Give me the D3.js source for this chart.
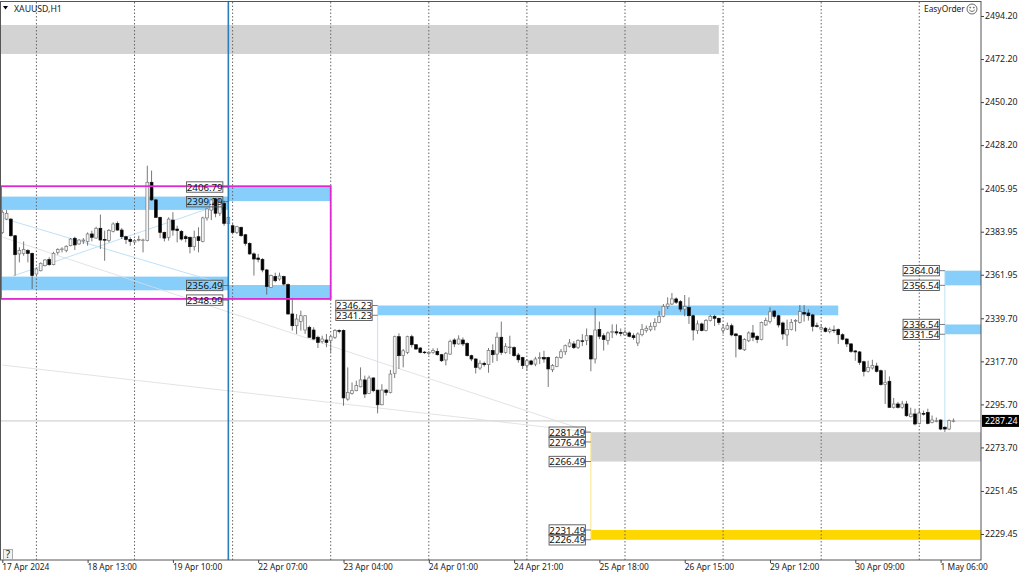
<!DOCTYPE html>
<html>
<head>
<meta charset="utf-8">
<script src="https://cdn.jsdelivr.net/npm/d3@7"></script>
<style>
  html, body { margin: 0; padding: 0; background: #fff; }
  svg { display: block; }
  text { font-family: "Noto Sans", sans-serif; fill: #222; }
</style>
</head>
<body>
<div id="chart"></div>
<script>
// XAUUSD H1 candles, one entry per bar
var opens = [
  2383.6,2390.4,2390.4,2381.9,2372.6,2372.9,2374.3,2372.9,2362.3,2364.0,
  2366.6,2369.7,2367.1,2373.4,2374.8,2374.4,2376.8,2380.6,2377.7,2379.2,
  2379.0,2382.8,2380.7,2385.7,2379.9,2379.4,2384.1,2388.2,2384.8,2381.4,
  2380.0,2378.7,2379.6,2379.5,2379.4,2409.2,2400.2,2391.3,2383.6,2381.1,
  2389.9,2385.3,2384.1,2381.4,2381.1,2376.3,2381.4,2379.0,2391.0,2395.0,
  2400.7,2393.4,2398.5,2388.2,2387.0,2383.6,2386.2,2382.4,2378.0,2372.6,
  2370.5,2369.8,2364.4,2355.5,2361.0,2359.8,2361.0,2356.9,2341.9,2335.9,
  2338.1,2333.7,2335.1,2333.7,2330.0,2327.9,2328.6,2328.3,2330.0,2333.5,
  2333.5,2298.4,2301.3,2302.7,2304.7,2308.2,2301.3,2309.2,2303.0,2295.5,
  2303.0,2301.8,2311.6,2330.3,2320.6,2322.3,2330.3,2326.2,2324.5,2322.4,
  2321.8,2322.3,2322.8,2321.1,2318.4,2321.4,2328.6,2326.6,2328.6,2326.9,
  2320.6,2318.9,2314.3,2316.7,2316.0,2323.2,2321.4,2330.0,2322.3,2324.7,
  2324.7,2320.9,2319.6,2315.5,2317.9,2316.3,2319.2,2319.7,2319.7,2313.4,
  2315.1,2319.7,2322.6,2325.4,2326.6,2324.7,2328.2,2328.3,2330.8,2318.9,
  2333.9,2330.8,2328.3,2332.5,2332.8,2332.5,2331.2,2332.2,2330.8,2327.1,
  2331.3,2333.4,2333.9,2335.6,2337.6,2340.7,2345.8,2347.0,2349.6,2348.2,
  2344.4,2345.3,2341.0,2333.4,2336.8,2333.4,2338.5,2340.7,2339.7,2333.4,
  2334.2,2335.9,2331.7,2330.8,2323.6,2328.2,2332.2,2330.5,2328.8,2336.3,
  2338.0,2343.4,2341.0,2337.3,2331.2,2333.9,2338.2,2337.6,2342.7,2342.4,
  2341.4,2335.9,2334.2,2334.6,2332.9,2333.7,2333.9,2331.3,2329.1,2326.6,
  2323.0,2322.5,2317.5,2312.6,2314.3,2315.3,2312.9,2305.8,2307.5,2294.2,
  2295.9,2294.2,2295.9,2289.4,2290.8,2286.0,2291.0,2291.6,2286.5,2287.0,
  2287.7,2284.0,2283.1,2287.2
];
var highs = [
  2395.0,2395.0,2390.8,2382.3,2376.0,2379.0,2375.1,2373.2,2365.7,2368.3,
  2370.0,2370.9,2373.7,2375.5,2376.0,2377.0,2380.7,2381.4,2380.2,2380.7,
  2383.6,2384.5,2386.5,2392.7,2384.5,2385.3,2388.7,2389.2,2385.8,2381.9,
  2381.1,2380.2,2381.9,2380.4,2417.7,2415.2,2400.7,2391.6,2384.0,2391.3,
  2393.9,2387.0,2384.8,2382.4,2381.4,2384.5,2386.2,2391.6,2396.0,2400.7,
  2401.0,2400.7,2399.8,2391.6,2387.9,2387.0,2386.5,2382.8,2378.5,2373.4,
  2372.6,2370.5,2364.9,2362.0,2363.0,2363.0,2361.5,2357.5,2350.1,2341.9,
  2343.6,2341.3,2335.9,2335.1,2330.8,2330.8,2331.7,2330.8,2334.2,2334.0,
  2334.0,2314.6,2306.9,2307.8,2314.6,2310.4,2310.4,2309.5,2303.0,2306.0,
  2303.6,2313.3,2330.8,2332.0,2324.0,2330.8,2331.3,2326.5,2325.0,2323.0,
  2323.0,2324.4,2324.4,2321.5,2322.5,2328.8,2329.5,2331.0,2329.9,2327.4,
  2321.1,2319.2,2318.2,2317.5,2324.5,2326.4,2332.5,2338.0,2327.0,2330.8,
  2325.4,2322.0,2320.0,2318.8,2318.5,2320.0,2322.3,2323.1,2320.0,2316.3,
  2320.3,2324.0,2326.3,2329.1,2328.0,2329.0,2331.6,2334.5,2331.0,2345.0,
  2338.0,2332.0,2333.0,2336.6,2336.6,2334.5,2334.0,2333.0,2332.0,2332.5,
  2336.8,2336.0,2337.5,2339.7,2343.4,2347.0,2350.4,2352.6,2350.4,2349.0,
  2351.6,2350.4,2341.6,2338.6,2337.5,2339.3,2341.5,2341.5,2340.0,2336.8,
  2337.5,2337.0,2332.0,2331.0,2329.5,2333.0,2336.3,2331.0,2338.0,2340.0,
  2345.3,2344.0,2341.5,2338.0,2339.0,2339.3,2339.3,2346.5,2346.5,2344.3,
  2342.0,2337.5,2336.5,2335.3,2335.0,2336.0,2334.5,2332.0,2329.5,2327.0,
  2323.5,2323.0,2318.0,2318.0,2318.5,2317.0,2313.5,2313.2,2310.0,2299.0,
  2297.0,2297.5,2297.5,2294.0,2293.5,2293.5,2292.5,2293.5,2290.0,2289.0,
  2288.0,2284.5,2288.0,2288.5
];
var lows = [
  2382.8,2389.9,2381.4,2361.5,2368.3,2371.7,2368.3,2354.7,2362.0,2363.7,
  2366.2,2366.6,2366.8,2372.2,2373.4,2373.4,2376.5,2374.6,2377.3,2377.7,
  2376.8,2379.0,2380.4,2375.1,2369.1,2378.5,2383.6,2384.5,2380.2,2377.7,
  2376.8,2377.7,2379.0,2373.4,2379.0,2399.8,2391.0,2380.7,2379.0,2379.4,
  2381.9,2378.5,2379.4,2378.5,2372.9,2374.3,2373.4,2378.5,2389.6,2389.9,
  2391.3,2392.0,2387.0,2387.9,2383.3,2382.8,2381.4,2376.8,2372.2,2361.5,
  2368.3,2363.2,2351.8,2355.2,2358.1,2358.9,2356.4,2341.5,2333.4,2331.7,
  2333.4,2331.7,2329.7,2328.8,2324.5,2326.9,2324.9,2322.3,2329.1,2332.0,
  2295.0,2297.6,2300.7,2302.4,2304.4,2299.0,2301.0,2301.9,2291.1,2295.2,
  2300.2,2301.3,2309.2,2313.8,2314.6,2321.4,2324.8,2323.5,2321.8,2321.5,
  2321.0,2321.6,2320.6,2317.4,2315.6,2321.0,2325.0,2326.2,2325.5,2320.2,
  2317.8,2311.5,2313.3,2315.0,2311.9,2317.0,2317.8,2321.0,2321.6,2321.4,
  2320.0,2317.0,2313.8,2313.1,2315.6,2315.2,2316.3,2317.0,2304.6,2312.2,
  2314.7,2319.0,2321.0,2324.8,2324.0,2324.0,2325.5,2326.0,2312.6,2316.6,
  2329.0,2323.2,2326.2,2329.6,2331.0,2330.5,2331.0,2330.0,2328.7,2325.5,
  2330.5,2332.4,2333.0,2333.5,2337.2,2340.2,2344.4,2346.5,2347.0,2343.0,
  2340.7,2336.8,2328.4,2331.7,2333.0,2333.0,2338.0,2335.7,2336.3,2331.8,
  2333.7,2330.5,2319.7,2323.5,2323.0,2327.5,2328.0,2327.0,2328.4,2335.8,
  2337.0,2339.5,2335.0,2328.8,2325.5,2333.5,2333.0,2337.0,2338.0,2338.5,
  2333.0,2335.0,2333.5,2332.5,2332.0,2332.2,2326.6,2328.5,2325.0,2322.0,
  2318.0,2315.8,2310.0,2312.0,2313.5,2312.0,2305.3,2295.9,2294.0,2293.6,
  2293.6,2293.5,2289.4,2289.0,2285.0,2285.5,2290.0,2285.5,2286.0,2286.5,
  2282.5,2281.6,2282.5,2286.5
];
var closes = [
  2393.9,2393.3,2381.9,2372.2,2374.3,2374.8,2372.9,2361.5,2364.9,2367.8,
  2369.5,2367.1,2372.9,2374.9,2375.1,2376.5,2380.2,2377.2,2379.7,2379.7,
  2382.8,2381.1,2385.7,2379.7,2379.6,2384.5,2387.9,2384.8,2381.4,2380.0,
  2379.0,2379.4,2380.0,2379.7,2409.2,2400.2,2391.3,2383.6,2380.7,2390.4,
  2384.8,2384.5,2380.2,2380.4,2376.3,2381.1,2379.4,2391.0,2395.6,2400.2,
  2393.4,2399.0,2388.2,2391.3,2383.6,2386.5,2381.9,2378.0,2372.6,2370.0,
  2369.8,2364.4,2355.9,2361.5,2358.9,2361.3,2357.2,2341.9,2335.9,2339.3,
  2341.0,2341.0,2330.0,2329.1,2327.4,2329.1,2327.4,2330.3,2333.4,2333.0,
  2299.0,2301.8,2302.7,2305.3,2308.2,2301.0,2309.2,2302.7,2295.5,2303.0,
  2301.8,2311.2,2330.3,2320.6,2323.1,2330.3,2326.2,2324.0,2322.3,2322.1,
  2322.2,2323.2,2321.1,2318.0,2321.8,2327.9,2326.6,2329.1,2326.6,2320.6,
  2318.9,2314.6,2316.7,2316.0,2323.2,2321.1,2330.0,2322.3,2325.4,2325.0,
  2320.6,2318.5,2315.5,2318.0,2316.2,2318.9,2319.7,2318.9,2313.8,2315.5,
  2319.7,2322.6,2325.7,2327.1,2324.7,2328.3,2328.0,2330.8,2318.9,2333.7,
  2330.5,2328.8,2332.2,2333.0,2332.2,2332.0,2332.5,2330.5,2329.8,2331.7,
  2333.9,2334.6,2335.6,2337.6,2340.7,2345.8,2347.0,2349.6,2347.9,2344.4,
  2345.8,2341.0,2333.7,2336.8,2333.4,2338.5,2340.7,2339.7,2337.6,2334.7,
  2335.9,2331.2,2330.8,2324.0,2328.8,2332.2,2330.0,2328.8,2337.6,2338.5,
  2343.0,2340.7,2336.3,2331.7,2333.9,2337.6,2338.5,2343.1,2341.9,2341.0,
  2335.6,2335.6,2335.0,2333.0,2333.9,2333.4,2331.3,2329.0,2326.6,2322.8,
  2322.5,2317.2,2312.6,2314.6,2315.5,2312.6,2305.8,2307.0,2294.2,2295.9,
  2294.2,2295.9,2289.9,2290.8,2285.7,2291.3,2290.7,2286.0,2287.7,2287.3,
  2283.1,2283.1,2287.4,2287.24
];

var priceTicks = [2494.20,2472.20,2450.20,2428.20,2405.95,2383.95,2361.95,2339.70,2317.70,2295.70,2273.70,2251.45,2229.45];
var timeTickBars = [0,20,40,60,80,100,120,140,160,180,200,220];
var timeTickLabels = ['17 Apr 2024','18 Apr 13:00','19 Apr 10:00','22 Apr 07:00','23 Apr 04:00','24 Apr 01:00',
  '24 Apr 21:00','25 Apr 18:00','26 Apr 15:00','29 Apr 12:00','30 Apr 09:00','1 May 06:00'];
var separatorBars = [8,31,54,77,100,123,146,169,192,215];
var lastPrice = 2287.24;
var cursorBar = 53;

// zones: [top price, bottom price, from bar, to bar]
var paneFirst = -0.3, paneLast = 229.5;
var greyZones = [[2489.6,2474.8,paneFirst,168],[2281.49,2266.49,138,paneLast]];
var blueZones = [
  [2401.9,2395.1,paneFirst,53],[2407.0,2399.6,53,77],
  [2361.0,2354.0,paneFirst,53],[2356.7,2349.4,53,77],
  [2346.23,2341.23,88,196],
  [2364.04,2356.54,221,paneLast],[2336.54,2331.54,221,paneLast]
];
var goldZones = [[2231.49,2226.49,138,paneLast]];
var magentaBox = [2407.2,2349.6,paneFirst,77];

// thin lines: [bar, price, bar, price]
var blueLines = [[0,2390.9,53,2356.49],[2.5,2361.3,53,2399.29],[88,2346.23,88,2293],[221,2364.04,221,2283]];
var greyLines = [[0,2381.2,138,2281.49],[0,2315.8,138,2281.49]];
var goldLines = [[138,2281.49,138,2226.49]];

// price tags: [price, bar they hang from]
var priceTags = [
  [2406.79,53],[2399.29,53],[2356.49,53],[2348.99,53],
  [2346.23,88],[2341.23,88],
  [2364.04,221],[2356.54,221],[2336.54,221],[2331.54,221],
  [2281.49,138],[2276.49,138],[2266.49,138],[2231.49,138],[2226.49,138]
];

var width = 1024, height = 576;
var paneLeft = 1, paneRight = 981, paneTop = 2, paneBottom = 560;

var x = d3.scaleLinear().domain([0, 223]).range([2.3, 953.4]);
var y = d3.scaleLinear().domain([2494.20, 2229.45]).range([16, 534]);
var fmt = d3.format('.2f');

var svg = d3.select('#chart').append('svg').attr('width', width).attr('height', height);

function drawZones(list, color) {
  svg.append('g').selectAll('rect').data(list).enter().append('rect')
    .attr('x', function (d) { return x(d[2]); })
    .attr('y', function (d) { return y(d[0]); })
    .attr('width', function (d) { return x(d[3]) - x(d[2]); })
    .attr('height', function (d) { return y(d[1]) - y(d[0]); })
    .style('fill', color);
}
function drawLines(list, color, w) {
  svg.append('g').selectAll('line').data(list).enter().append('line')
    .attr('x1', function (d) { return x(d[0]); })
    .attr('y1', function (d) { return y(d[1]); })
    .attr('x2', function (d) { return x(d[2]); })
    .attr('y2', function (d) { return y(d[3]); })
    .style('stroke', color)
    .style('stroke-width', w);
}

drawZones(greyZones, '#d3d3d3');
drawZones(blueZones, '#87cefa');
drawZones(goldZones, '#ffd700');

// day separators
svg.append('g').selectAll('line').data(separatorBars).enter().append('line')
  .attr('x1', function (d) { return x(d); })
  .attr('x2', function (d) { return x(d); })
  .attr('y1', paneTop)
  .attr('y2', paneBottom)
  .style('stroke', '#666')
  .style('stroke-width', 1)
  .style('stroke-dasharray', '1.5,2');

// last price line
svg.append('line')
  .attr('x1', paneLeft).attr('x2', paneRight)
  .attr('y1', y(lastPrice)).attr('y2', y(lastPrice))
  .style('stroke', '#c8c8c8')
  .style('stroke-width', 1);

drawLines(greyLines, '#dcdcdc', 0.8);
drawLines(blueLines, '#b8def5', 0.9);
drawLines(goldLines, '#ffe680', 1);

// candles
var bars = svg.append('g').selectAll('g').data(d3.range(opens.length)).enter().append('g');
bars.append('line')
  .attr('x1', function (i) { return x(i); })
  .attr('x2', function (i) { return x(i); })
  .attr('y1', function (i) { return y(highs[i]); })
  .attr('y2', function (i) { return y(lows[i]); })
  .style('stroke', '#555')
  .style('stroke-width', 0.8);
bars.append('rect')
  .attr('x', function (i) { return x(i) - 1.4; })
  .attr('y', function (i) { return y(Math.max(opens[i], closes[i])); })
  .attr('width', 2.8)
  .attr('height', function (i) { return Math.max(0.6, Math.abs(y(opens[i]) - y(closes[i]))); })
  .style('fill', function (i) { return closes[i] >= opens[i] ? '#f4f4f4' : '#000'; })
  .style('stroke', function (i) { return closes[i] >= opens[i] ? '#777' : '#111'; })
  .style('stroke-width', 0.7);

// cursor line
svg.append('line')
  .attr('x1', x(cursorBar)).attr('x2', x(cursorBar))
  .attr('y1', paneTop).attr('y2', paneBottom)
  .style('stroke', '#2a7db8')
  .style('stroke-width', 1.6);

// magenta box
svg.append('rect')
  .attr('x', x(magentaBox[2]))
  .attr('y', y(magentaBox[0]))
  .attr('width', x(magentaBox[3]) - x(magentaBox[2]))
  .attr('height', y(magentaBox[1]) - y(magentaBox[0]))
  .style('fill', 'none')
  .style('stroke', '#e028d2')
  .style('stroke-width', 1.8);

// price tags
var tags = svg.append('g').selectAll('g').data(priceTags).enter().append('g');
tags.append('line')
  .attr('x1', function (d) { return x(d[1]) - 5.5; })
  .attr('x2', function (d) { return x(d[1]); })
  .attr('y1', function (d) { return y(d[0]); })
  .attr('y2', function (d) { return y(d[0]); })
  .style('stroke', '#444')
  .style('stroke-width', 0.7);
tags.append('rect')
  .attr('x', function (d) { return x(d[1]) - 41.8; })
  .attr('y', function (d) { return y(d[0]) - 5.2; })
  .attr('width', 36.3)
  .attr('height', 10.4)
  .style('fill', 'none')
  .style('stroke', '#555')
  .style('stroke-width', 0.9);
tags.append('text')
  .attr('x', function (d) { return x(d[1]) - 23.6; })
  .attr('y', function (d) { return y(d[0]) + 3.6; })
  .attr('text-anchor', 'middle')
  .style('font-size', '9.7px')
  .style('fill', '#111')
  .text(function (d) { return fmt(d[0]); });

// frame and axes
svg.append('rect')
  .attr('x', 0.5).attr('y', 1.5)
  .attr('width', paneRight - 0.5).attr('height', paneBottom - 1.5)
  .style('fill', 'none')
  .style('stroke', '#555')
  .style('stroke-width', 1);

var yAxis = d3.axisRight(y).tickValues(priceTicks).tickSize(3).tickPadding(1).tickFormat(fmt);
var gy = svg.append('g').attr('transform', 'translate(' + paneRight + ',0)').call(yAxis);
gy.select('.domain').remove();
gy.selectAll('line').style('stroke', '#444');
gy.selectAll('text').attr('font-family', null).style('font-size', '8.8px');

var xAxis = d3.axisBottom(x).tickValues(timeTickBars).tickSize(3).tickFormat(function (d, i) { return timeTickLabels[i]; });
var gx = svg.append('g').attr('transform', 'translate(0,' + paneBottom + ')').call(xAxis);
gx.select('.domain').remove();
gx.selectAll('line').style('stroke', '#444');
gx.selectAll('text')
  .attr('font-family', null)
  .attr('text-anchor', 'start')
  .attr('y', 4.5)
  .attr('x', -0.5)
  .style('font-size', '8.4px');

// last price tag
svg.append('rect')
  .attr('x', paneRight + 1).attr('y', y(lastPrice) - 6)
  .attr('width', 37).attr('height', 12)
  .style('fill', '#000');
svg.append('text')
  .attr('x', paneRight + 4).attr('y', y(lastPrice) + 3.2)
  .style('font-size', '8.8px')
  .style('fill', '#fff')
  .text(fmt(lastPrice));

// header
svg.append('path').attr('d', 'M3,6 L8,6 L5.5,9.5 Z').style('fill', '#000');
svg.append('text').attr('x', 14).attr('y', 11.5).style('font-size', '8.7px').text('XAUUSD,H1');
svg.append('text').attr('x', 924).attr('y', 12).style('font-size', '8.4px').text('EasyOrder');

// smiley
var smile = svg.append('g').attr('transform', 'translate(972,9)')
  .style('fill', 'none').style('stroke', '#444').style('stroke-width', 0.8);
smile.append('circle').attr('r', 5);
smile.append('circle').attr('cx', -1.8).attr('cy', -1.4).attr('r', 0.5);
smile.append('circle').attr('cx', 1.8).attr('cy', -1.4).attr('r', 0.5);
smile.append('path').attr('d', 'M-2.8,0.8 Q0,4 2.8,0.8');

// help button
svg.append('rect').attr('x', 3.5).attr('y', 549.5).attr('width', 9).attr('height', 10)
  .style('fill', '#f2f2f2').style('stroke', '#999').style('stroke-width', 0.8);
svg.append('text').attr('x', 8).attr('y', 558.3).attr('text-anchor', 'middle').style('font-size', '10px').text('?');
</script>
</body>
</html>
